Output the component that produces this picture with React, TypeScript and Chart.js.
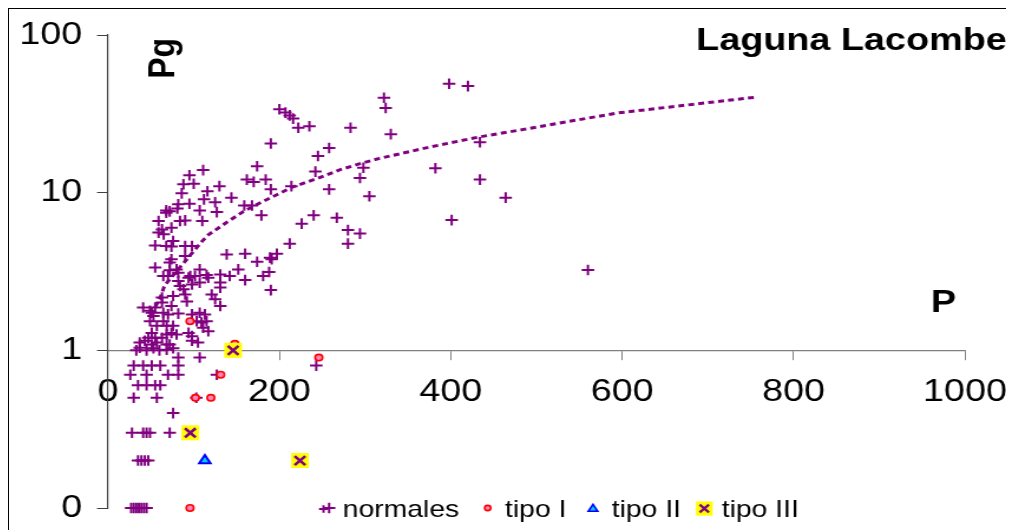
import React, { useEffect, useRef } from 'react';
import { Chart, registerables } from 'chart.js';
import { drawPoint } from 'chart.js/helpers';

Chart.register(...registerables);

// ---------- texts ----------
const TITLE = 'Laguna Lacombe';
const Y_TITLE = 'Pg';
const X_TITLE = 'P';
const LEGEND_LABELS = ['normales', 'tipo I', 'tipo II', 'tipo III'];

// ---------- ticks ----------
const X_TICKS = [0, 200, 400, 600, 800, 1000];
const X_TICK_LABELS = ['0', '200', '400', '600', '800', '1000'];
const Y_TICKS = [0.1, 1, 10, 100];
const Y_TICK_LABELS = ['0', '1', '10', '100'];

// ---------- data ----------
const NORMAL_X = [
  398, 420, 322, 324, 330, 434, 382, 434, 464, 401, 560,
  200, 207, 212, 216, 222, 235, 283, 190, 258, 245, 174, 242, 298, 294, 162, 170, 184, 190, 214,
  258, 305, 159, 168, 179, 240, 226, 267, 280, 294, 280, 212, 160, 174, 189, 191, 197, 188, 181, 160, 190,
  111, 95, 88, 100, 130, 86, 116, 144, 112, 125, 95, 82, 81, 68, 72, 68, 107, 127, 59, 84, 90, 74, 63, 110,
  65, 55, 68, 74, 90, 98, 76, 59, 49,
  138.5, 55, 74, 90, 72, 72, 80, 64.5, 70, 82, 94, 82, 107, 96, 101.5, 115, 117, 131, 142, 152,
  107, 98, 131, 131, 84, 88, 76, 63, 90, 92, 121, 125, 131, 74, 63, 41, 55,
  51, 53, 64.5, 70, 82, 98, 107, 113, 49, 57, 64.5, 68.5, 76, 103.5, 109, 115, 111, 117, 94,
  51, 47, 55, 63, 68.5, 74, 80, 98, 98, 105, 37, 43, 51, 57, 68.5, 72, 37, 53, 68.5, 76,
  33, 45, 60,
  82, 107,
  30, 41, 51, 61, 82, 243,
  26, 45, 70, 82, 127,
  35, 45, 55, 61,
  30, 57, 103,
  76,
  28, 41, 45, 49, 72,
  35, 39, 43, 47,
  27, 30, 33, 36, 39, 42, 45, 258,
];
const NORMAL_Y = [
  49.1, 47.4, 40.0, 34.4, 23.5, 20.9, 14.3, 12.1, 9.3, 6.7, 3.23,
  33.8, 32.2, 30.9, 29.5, 25.8, 26.4, 25.8, 20.5, 19.2, 17.1, 14.7, 13.6, 14.4, 12.4, 12.1, 11.7, 12.1, 10.5, 11.0,
  10.5, 9.5, 8.3, 8.3, 7.18, 7.18, 6.36, 6.94, 5.79, 5.5, 4.75, 4.75, 4.1, 3.65, 3.87, 3.78, 4.1, 3.14, 2.96, 2.79, 2.41,
  13.9, 12.9, 11.3, 11.4, 11.0, 9.9, 10.2, 9.3, 9.07, 8.7, 8.5, 8.43, 7.95, 7.72, 7.61, 7.47, 7.72, 7.53, 6.61, 6.61, 6.67, 6.0, 5.85, 6.61,
  5.44, 4.63, 4.59, 4.55, 4.59, 4.59, 4.93, 5.58, 1.78,
  4.06, 3.35, 3.78, 3.96, 3.6, 3.22, 3.26, 2.96, 2.96, 3.11, 2.89, 2.75, 3.26, 2.96, 2.96, 3.0, 2.89, 3.03, 2.96, 3.26,
  2.69, 2.62, 2.69, 2.5, 2.56, 2.44, 2.21, 2.16, 2.26, 2.04, 2.26, 2.11, 1.91, 1.91, 2.01, 1.87, 1.87,
  1.73, 1.65, 1.73, 1.69, 1.71, 1.69, 1.73, 1.69, 1.53, 1.43, 1.53, 1.43, 1.43, 1.53, 1.5, 1.53, 1.39, 1.32, 1.29,
  1.29, 1.2, 1.2, 1.2, 1.26, 1.29, 1.26, 1.23, 1.15, 1.12, 1.12, 1.15, 1.09, 1.12, 1.09, 1.09, 1.04, 1.03, 1.01, 1.03,
  1, 1, 1,
  0.9, 0.9,
  0.8, 0.8, 0.8, 0.8, 0.8, 0.8,
  0.7, 0.7, 0.7, 0.7, 0.7,
  0.6, 0.6, 0.6, 0.6,
  0.5, 0.5, 0.5,
  0.4,
  0.3, 0.3, 0.3, 0.3, 0.3,
  0.2, 0.2, 0.2, 0.2,
  0.1, 0.1, 0.1, 0.1, 0.1, 0.1, 0.1, 0.1,
];
const TIPO1_X = [95.7, 148, 246, 131.5, 102, 120, 95.7];
const TIPO1_Y = [1.53, 1.1, 0.9, 0.7, 0.5, 0.5, 0.1];
const TIPO2_X = [113];
const TIPO2_Y = [0.2];
const TIPO3_X = [146, 96, 224];
const TIPO3_Y = [1, 0.3, 0.2];

// dotted trend line
const TREND_X = [55, 61, 66, 110, 117, 137, 158, 179, 197, 216, 244, 271, 298, 317, 376, 434, 485, 594, 757];
const TREND_Y = [1.88, 2.16, 2.58, 4.93, 5.4, 6.4, 7.6, 8.7, 9.7, 10.9, 12.3, 14.0, 15.5, 16.5, 19.5, 22.6, 25.2, 32.0, 40.4];

// ---------- styling / layout ----------
const PURPLE = '#800080';
const RED = '#ff0000';
const PINK = '#ff88bb';
const BLUE = '#0000ff';
const CYAN = '#00ccff';
const YELLOW = '#ffff00';
const FONT = '"Liberation Sans", Arial, Helvetica, sans-serif';

const STRETCH = 1.18; // the reference is horizontally stretched
const CSS_W = 1003;
const CSS_H = 521;
const W = Math.round(CSS_W / STRETCH);
const H = CSS_H;
const ix = (x: number) => (x - 9) / STRETCH;
const iy = (y: number) => y - 9;
const AREA = { left: ix(108), right: ix(965), top: iy(35), bottom: iy(508) };

const pts = (xs: number[], ys: number[]) => xs.map((x, i) => ({ x, y: ys[i] }));

const LEGEND = [
  { mx: ix(323.5), my: iy(509), tx: ix(342.7), marks: [{ pointStyle: 'cross', radius: 3.8, borderWidth: 2, stroke: PURPLE, fill: PURPLE }] },
  { mx: ix(487.7), my: iy(508), tx: ix(505), marks: [{ pointStyle: 'circle', radius: 2.6, borderWidth: 1.6, stroke: RED, fill: PINK }] },
  { mx: ix(593), my: iy(509), tx: ix(611.7), marks: [{ pointStyle: 'triangle', radius: 4.6, borderWidth: 1.6, stroke: BLUE, fill: CYAN }] },
  {
    mx: ix(704.3), my: iy(508.5), tx: ix(721.7), marks: [
      { pointStyle: 'rect', radius: 10, borderWidth: 0, stroke: YELLOW, fill: YELLOW },
      { pointStyle: 'crossRot', radius: 5.5, borderWidth: 2.2, stroke: PURPLE, fill: PURPLE },
    ],
  },
];

const overlayPlugin = {
  id: 'overlayTexts',
  afterDraw(chart: any) {
    const ctx: CanvasRenderingContext2D = chart.ctx;
    ctx.save();
    ctx.fillStyle = '#000';
    ctx.font = `bold 32px ${FONT}`;
    ctx.textBaseline = 'alphabetic';
    ctx.textAlign = 'right';
    ctx.fillText(TITLE, ix(1006.7), iy(49.5));
    ctx.textAlign = 'left';
    ctx.fillText(X_TITLE, ix(931), iy(312));
    ctx.save();
    ctx.translate(ix(174), iy(58.3));
    ctx.rotate(-Math.PI / 2);
    ctx.textAlign = 'center';
    ctx.fillText(Y_TITLE, 0, 0);
    ctx.restore();

    // legend
    ctx.font = `24px ${FONT}`;
    ctx.textAlign = 'left';
    LEGEND.forEach((item, i) => {
      item.marks.forEach((m) => {
        ctx.save();
        ctx.strokeStyle = m.stroke;
        ctx.fillStyle = m.fill;
        ctx.lineWidth = m.borderWidth;
        drawPoint(ctx, { pointStyle: m.pointStyle as any, radius: m.radius, rotation: 0, borderWidth: m.borderWidth }, item.mx, item.my);
        ctx.restore();
      });
      ctx.fillStyle = '#000';
      ctx.fillText(LEGEND_LABELS[i], item.tx, iy(516.5));
    });
    ctx.restore();
  },
};

export default function App() {
  const canvasRef = useRef<HTMLCanvasElement | null>(null);

  useEffect(() => {
    document.documentElement.style.overflow = 'hidden';
    document.body.style.overflow = 'hidden';
    const canvas = canvasRef.current;
    if (!canvas) return;
    const chart = new Chart(canvas, {
      type: 'scatter',
      data: {
        datasets: [
          {
            label: 'trend',
            data: pts(TREND_X, TREND_Y),
            showLine: true,
            borderColor: PURPLE,
            borderWidth: 3,
            borderDash: [5, 3.5],
            pointRadius: 0,
            fill: false,
            order: 5,
            clip: false,
          } as any,
          {
            label: LEGEND_LABELS[0],
            data: pts(NORMAL_X, NORMAL_Y),
            pointStyle: 'cross',
            pointRadius: 5.3,
            borderWidth: 2,
            borderColor: PURPLE,
            backgroundColor: PURPLE,
            order: 4,
            clip: false,
          },
          {
            label: LEGEND_LABELS[1],
            data: pts(TIPO1_X, TIPO1_Y),
            pointStyle: 'circle',
            pointRadius: 3.2,
            borderWidth: 1.6,
            borderColor: RED,
            backgroundColor: PINK,
            order: 3,
            clip: false,
          },
          {
            label: LEGEND_LABELS[2],
            data: pts(TIPO2_X, TIPO2_Y),
            pointStyle: 'triangle',
            pointRadius: 5.5,
            borderWidth: 2,
            borderColor: BLUE,
            backgroundColor: CYAN,
            order: 2,
            clip: false,
          },
          {
            label: 'tipo III background',
            data: pts(TIPO3_X, TIPO3_Y),
            pointStyle: 'rect',
            pointRadius: 10.6,
            borderWidth: 0,
            borderColor: YELLOW,
            backgroundColor: YELLOW,
            order: 1,
            clip: false,
          },
          {
            label: LEGEND_LABELS[3],
            data: pts(TIPO3_X, TIPO3_Y),
            pointStyle: 'crossRot',
            pointRadius: 6.4,
            borderWidth: 2.5,
            borderColor: PURPLE,
            backgroundColor: PURPLE,
            order: 0,
            clip: false,
          },
        ],
      },
      options: {
        animation: false,
        responsive: false,
        maintainAspectRatio: false,
        events: [],
        layout: {
          padding: { left: 0, top: AREA.top, right: W - AREA.right, bottom: H - AREA.bottom },
        },
        plugins: {
          legend: { display: false },
          tooltip: { enabled: false },
          title: { display: false },
        },
        scales: {
          x: {
            type: 'linear',
            position: { y: 1 } as any,
            min: 0,
            max: 1000,
            afterBuildTicks: (s: any) => {
              s.ticks = X_TICKS.map((v) => ({ value: v }));
            },
            afterFit: (s: any) => {
              s.paddingLeft = 0;
              s.paddingRight = 0;
              s.paddingTop = 0;
              s.paddingBottom = 0;
            },
            ticks: {
              callback: (_v: any, i: number) => X_TICK_LABELS[i],
              font: { family: FONT, size: 32 },
              color: '#000',
              padding: 14,
              maxRotation: 0,
              autoSkip: false,
            },
            grid: { drawOnChartArea: false, drawTicks: true, tickLength: 9, color: '#808080' },
            border: { display: true, color: '#808080', width: 1.2 },
          },
          y: {
            type: 'logarithmic',
            position: 'left',
            min: 0.1,
            max: 100,
            afterBuildTicks: (s: any) => {
              s.ticks = Y_TICKS.map((v) => ({ value: v }));
            },
            afterFit: (s: any) => {
              s.width = AREA.left;
              s.paddingTop = 0;
              s.paddingBottom = 0;
              s.paddingLeft = 0;
              s.paddingRight = 0;
            },
            ticks: {
              callback: (_v: any, i: number) => Y_TICK_LABELS[i],
              font: { family: FONT, size: 32 },
              color: '#000',
              padding: 12.5,
              autoSkip: false,
            },
            grid: { drawOnChartArea: false, drawTicks: true, tickLength: 9.3, color: '#404040' },
            border: { display: true, color: '#404040', width: 1.2 },
          },
        },
      } as any,
      plugins: [overlayPlugin],
    });
    return () => chart.destroy();
  }, []);

  return (
    <div style={{ width: CSS_W, height: CSS_H, border: '1px solid #000', borderBottom: 'none', background: '#fff' }}>
      <canvas ref={canvasRef} width={W} height={H} style={{ width: CSS_W, height: CSS_H, display: 'block' }} />
    </div>
  );
}
